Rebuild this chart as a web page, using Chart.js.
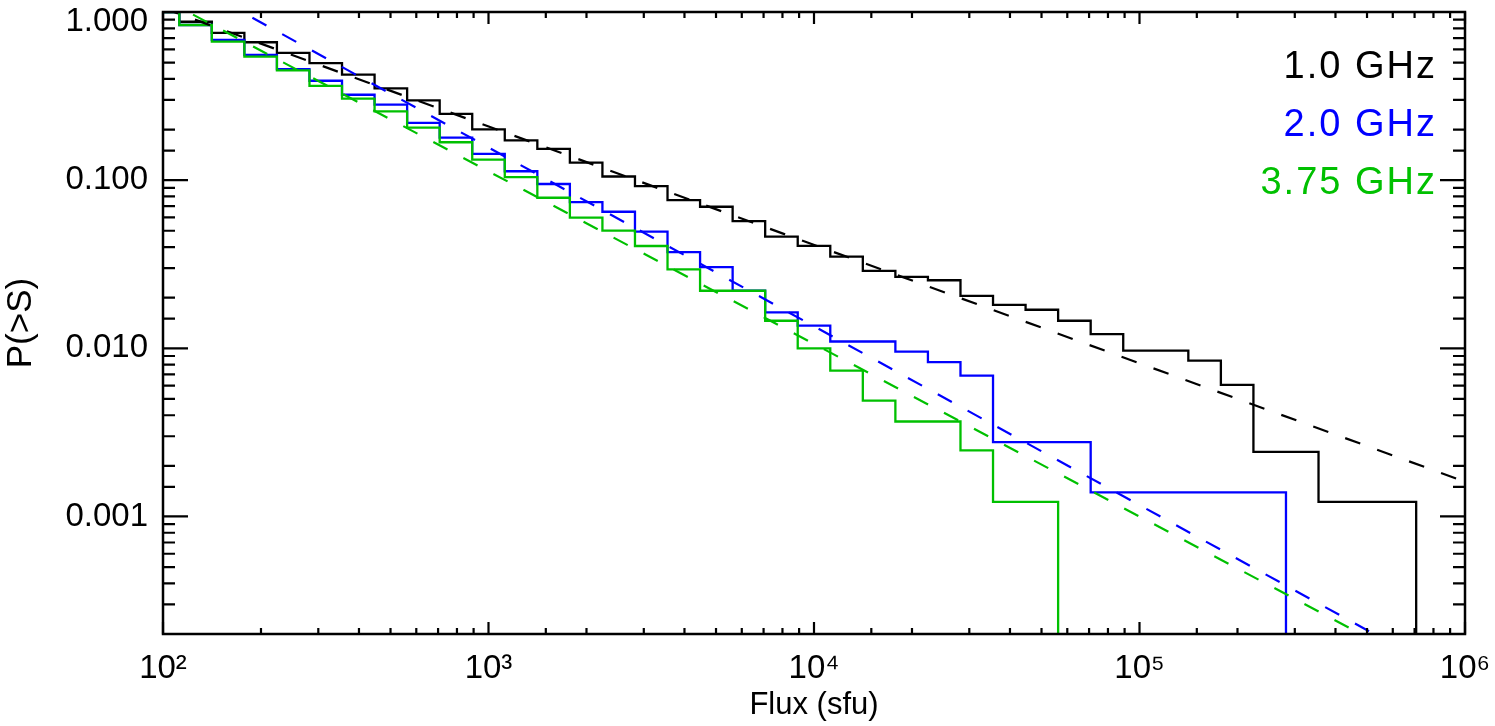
<!DOCTYPE html>
<html lang="en">
<head>
  <meta charset="UTF-8">
  <title>P(>S) vs Flux</title>
  <script src="https://cdn.jsdelivr.net/npm/chart.js"></script>
  <style>
    * { margin: 0; padding: 0; box-sizing: border-box; }
    body { background: white; }
    .wrap { width: 1495px; height: 726px; position: relative; }
  </style>
</head>
<body>
<div class="wrap"><canvas id="chart"></canvas></div>

<script>
  // bin centres, 0.1 dex apart (sfu)
  const flux = [100, 125.9, 158.5, 199.5, 251.2, 316.2, 398.1, 501.2, 631.0, 794.3,
    1000, 1259, 1585, 1995, 2512, 3162, 3981, 5012, 6310, 7943,
    10000, 12589, 15849, 19953, 25119, 31623, 39811, 50119, 63096, 79433,
    100000, 125893, 158489, 199526, 251189, 316228, 398107, 501187, 630957, 794328];

  // cumulative probability P(>S) per band
  const p10 = [1.000, 0.875, 0.751, 0.661, 0.571, 0.496, 0.424, 0.351, 0.298, 0.248,
    0.2005, 0.1726, 0.1535, 0.1273, 0.1051, 0.0921, 0.0761, 0.0695, 0.0571, 0.0462,
    0.0407, 0.0351, 0.0289, 0.0266, 0.0254, 0.0205, 0.01815, 0.01695, 0.01458, 0.01213,
    0.00968, 0.00968, 0.00845, 0.00606, 0.00242, 0.00242, 0.00122, 0.00122, 0.00122, 0];
  const p20 = [1.000, 0.837, 0.682, 0.556, 0.458, 0.390, 0.322, 0.281, 0.2189, 0.1791,
    0.1435, 0.1130, 0.0949, 0.0740, 0.0649, 0.0494, 0.0373, 0.0304, 0.0220, 0.01636,
    0.01366, 0.01098, 0.01098, 0.00955, 0.00827, 0.00688, 0.00277, 0.00277, 0.00277, 0.00139,
    0.00139, 0.00139, 0.00139, 0.00139, 0.00139, 0];
  const p375 = [1.000, 0.837, 0.667, 0.543, 0.450, 0.364, 0.305, 0.2564, 0.2052, 0.1680,
    0.1326, 0.1041, 0.0786, 0.0598, 0.0501, 0.0406, 0.0295, 0.0220, 0.0220, 0.01458,
    0.01000, 0.00737, 0.00489, 0.00367, 0.00367, 0.00247, 0.00122, 0.00122, 0];

  // power-law fits, end points at the edges of the flux range
  const fitFlux = [100, 1000000];
  const fit10 = [1.056, 0.00161];
  const fit20 = [1.81, 0.000101];
  const fit375 = [1.20, 0.000094];

  const bands = ['1.0 GHz', '2.0 GHz', '3.75 GHz'];
  const colors = ['#000000', '#0000ff', '#00c000'];

  const xMin = 100, xMax = 1000000;
  const yMin = 0.0002, yMax = 1;

  // zero counts sit far below the axis on a log scale
  const FLOOR = 1e-6;

  function toPoints(xs, ys) {
    return ys.map((v, i) => ({ x: xs[i], y: v > 0 ? v : FLOOR }));
  }

  function isDecade(v) {
    const l = Math.log10(v);
    return Math.abs(l - Math.round(l)) < 1e-6;
  }

  const sup = { 2: '\u00b2', 3: '\u00b3', 4: '\u2074', 5: '\u2075', 6: '\u2076' };

  const stepSets = [p10, p20, p375].map((vals, i) => ({
    label: bands[i],
    data: toPoints(flux, vals),
    borderColor: colors[i],
    borderWidth: 2.3,
    stepped: 'middle',
    pointRadius: 0,
    fill: false,
    order: 6 - i
  }));

  const fitSets = [fit10, fit20, fit375].map((vals, i) => ({
    label: bands[i] + ' fit',
    data: toPoints(fitFlux, vals),
    borderColor: colors[i],
    borderWidth: 2.2,
    borderDash: [16, 18],
    pointRadius: 0,
    fill: false,
    order: 3 - i
  }));

  // IDL style box with inward ticks on all four sides
  const frameTicks = {
    id: 'frameTicks',
    afterDatasetsDraw(chart) {
      const { ctx, chartArea: a, scales: { x, y } } = chart;
      ctx.save();
      ctx.strokeStyle = '#000';
      ctx.lineWidth = 2.2;
      ctx.beginPath();
      x.ticks.forEach(t => {
        const px = x.getPixelForValue(t.value);
        const len = isDecade(t.value) ? 12 : 6;
        ctx.moveTo(px, a.bottom); ctx.lineTo(px, a.bottom - len);
        ctx.moveTo(px, a.top); ctx.lineTo(px, a.top + len);
      });
      y.ticks.forEach(t => {
        const py = y.getPixelForValue(t.value);
        const len = isDecade(t.value) ? 25 : 12;
        ctx.moveTo(a.left, py); ctx.lineTo(a.left + len, py);
        ctx.moveTo(a.right, py); ctx.lineTo(a.right - len, py);
      });
      ctx.stroke();
      ctx.lineWidth = 2.5;
      ctx.strokeRect(a.left, a.top, a.right - a.left, a.bottom - a.top);
      ctx.restore();
    }
  };

  const bandLabels = {
    id: 'bandLabels',
    afterDraw(chart) {
      const { ctx, chartArea: a } = chart;
      ctx.save();
      ctx.font = '38px "Liberation Sans", Arial, sans-serif';
      ctx.textAlign = 'right';
      ctx.textBaseline = 'middle';
      if ('letterSpacing' in ctx) ctx.letterSpacing = '2px';
      stepSets.forEach((ds, i) => {
        ctx.fillStyle = ds.borderColor;
        ctx.fillText(ds.label, a.right - 28, a.top + 56 + i * 58);
      });
      ctx.restore();
    }
  };

  Chart.defaults.font.family = '"Liberation Sans", Arial, sans-serif';
  Chart.defaults.color = '#000';

  new Chart(document.getElementById('chart'), {
    type: 'line',
    data: { datasets: [...stepSets, ...fitSets] },
    options: {
      responsive: true,
      maintainAspectRatio: false,
      animation: false,
      layout: { padding: { top: 12, right: 30, bottom: 0, left: 0 } },
      plugins: {
        legend: { display: false },
        tooltip: { enabled: false }
      },
      scales: {
        x: {
          type: 'logarithmic',
          min: xMin,
          max: xMax,
          grid: { display: false, drawTicks: false },
          border: { display: false },
          ticks: {
            autoSkip: false,
            maxRotation: 0,
            padding: 15,
            font: { size: 33 },
            callback: v => isDecade(v) ? '10' + sup[Math.round(Math.log10(v))] : ''
          },
          title: {
            display: true,
            text: 'Flux (sfu)',
            font: { size: 31 },
            padding: { top: 0, bottom: 2 }
          },
          afterFit: s => { s.height = 92; s.paddingLeft = 0; s.paddingRight = 0; }
        },
        y: {
          type: 'logarithmic',
          min: yMin,
          max: yMax,
          grid: { display: false, drawTicks: false },
          border: { display: false },
          ticks: {
            autoSkip: false,
            padding: 15,
            font: { size: 33, lineHeight: 0.6 },
            callback: v => {
              if (!isDecade(v)) return '';
              const s = Number(v).toFixed(3);
              return v === yMax ? ['', s] : s;
            }
          },
          title: {
            display: true,
            text: 'P(>S)',
            font: { size: 35 },
            padding: { top: 0, bottom: 0 }
          },
          afterFit: s => { s.width = 163; s.paddingTop = 0; s.paddingBottom = 0; }
        }
      }
    },
    plugins: [frameTicks, bandLabels]
  });
</script>
</body>
</html>
